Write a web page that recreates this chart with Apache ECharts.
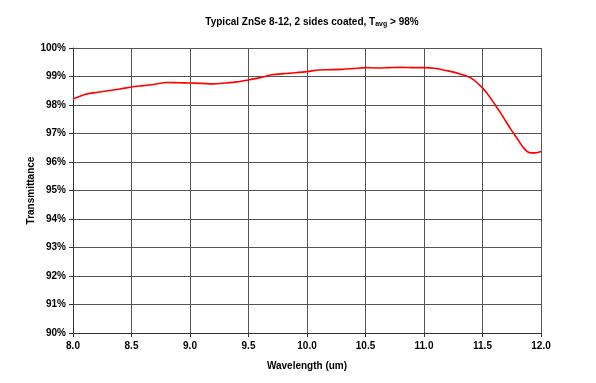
<!DOCTYPE html>
<html>
<head>
<meta charset="utf-8">
<script src="https://cdn.jsdelivr.net/npm/echarts@6/dist/echarts.min.js"></script>
<style>
  html, body { margin: 0; padding: 0; background: #fff; }
  #chart { width: 596px; height: 383px; }
</style>
</head>
<body>
<div id="chart"></div>
<script>
// wavelength (um) and transmittance (%)
const wavelength = [8.0, 8.1, 8.2, 8.3, 8.4, 8.5, 8.6, 8.7, 8.8, 8.9,
  9.0, 9.1, 9.2, 9.3, 9.4, 9.5, 9.6, 9.7, 9.8, 9.9,
  10.0, 10.1, 10.2, 10.3, 10.4, 10.5, 10.6, 10.7, 10.8, 10.9,
  11.0, 11.1, 11.2, 11.3, 11.4, 11.5, 11.55, 11.6, 11.65, 11.7,
  11.75, 11.8, 11.85, 11.9, 11.95, 12.0];
const transmittance = [98.21, 98.37, 98.44, 98.50, 98.56, 98.63, 98.68, 98.73, 98.79, 98.78,
  98.77, 98.76, 98.74, 98.77, 98.81, 98.88, 98.96, 99.06, 99.10, 99.13,
  99.17, 99.23, 99.24, 99.25, 99.28, 99.31, 99.30, 99.31, 99.32, 99.31,
  99.31, 99.28, 99.20, 99.10, 98.95, 98.60, 98.35, 98.05, 97.75, 97.42,
  97.10, 96.80, 96.50, 96.33, 96.32, 96.37];

const chart = echarts.init(document.getElementById('chart'));
const font = 'Liberation Sans, Arial, sans-serif';

chart.setOption({
  animation: false,
  backgroundColor: '#fff',
  title: {
    text: 'Typical ZnSe 8-12, 2 sides coated, T{sub|avg} > 98%',
    left: 307,
    textAlign: 'center',
    top: 11,
    textStyle: {
      fontFamily: font, fontSize: 10, fontWeight: 'bold', color: '#000',
      rich: {
        sub: { fontFamily: font, fontSize: 7, fontWeight: 'bold', color: '#000', verticalAlign: 'bottom', padding: [5, 0, 0, 0] }
      }
    }
  },
  grid: { left: 73, right: 55, top: 48, bottom: 50 },
  xAxis: {
    type: 'value',
    min: 8, max: 12, interval: 0.5,
    name: 'Wavelength (um)',
    nameLocation: 'middle',
    nameGap: 28,
    nameTextStyle: { fontFamily: font, fontSize: 10, fontWeight: 'bold', color: '#000' },
    axisLine: { lineStyle: { color: '#333', width: 1 } },
    axisTick: { show: true, length: 4, lineStyle: { color: '#333' } },
    axisLabel: {
      fontFamily: font, fontSize: 10, fontWeight: 'bold', color: '#000', margin: 8,
      formatter: v => v.toFixed(1)
    },
    splitLine: { show: true, lineStyle: { color: '#555', width: 1 } }
  },
  yAxis: {
    type: 'value',
    min: 90, max: 100, interval: 1,
    name: 'Transmittance',
    nameLocation: 'middle',
    nameGap: 37,
    nameMoveOverlap: false,
    nameTextStyle: { fontFamily: font, fontSize: 10, fontWeight: 'bold', color: '#000' },
    axisLine: { show: true, lineStyle: { color: '#333', width: 1 } },
    axisTick: { show: true, length: 4, lineStyle: { color: '#333' } },
    axisLabel: {
      fontFamily: font, fontSize: 10, fontWeight: 'bold', color: '#000', margin: 7,
      formatter: '{value}%'
    },
    splitLine: { show: true, lineStyle: { color: '#555', width: 1 } }
  },
  series: [{
    type: 'line',
    data: wavelength.map((w, i) => [w, transmittance[i]]),
    showSymbol: false,
    smooth: 0.3,
    lineStyle: { color: '#ff0000', width: 1.6 },
    itemStyle: { color: '#ff0000' }
  }]
});
</script>
</body>
</html>
